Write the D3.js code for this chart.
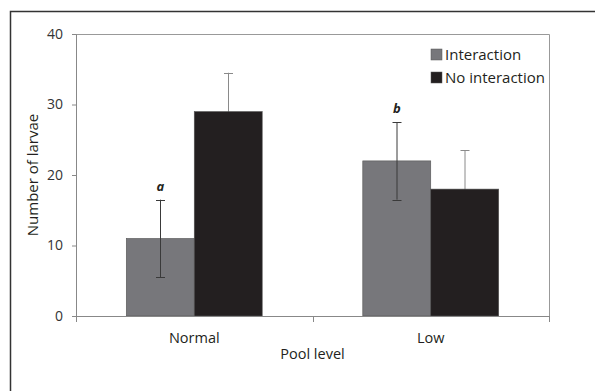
<!DOCTYPE html>
<html>
<head>
<meta charset="utf-8">
<script src="https://cdn.jsdelivr.net/npm/d3@7"></script>
<style>
    body { margin: 0; background: #fff; }
    svg { display: block; font-family: "Open Sans", sans-serif; }
</style>
</head>
<body>
<div id="chart"></div>
<script>
(function () {
    'use strict';

    var categories = ["Normal", "Low"];
    var seriesNames = ["Interaction", "No interaction"];
    var interactionValues = [11, 22];
    var noInteractionValues = [29, 18];
    var interactionErrors = [5.5, 5.5];
    var noInteractionErrors = [5.5, 5.5];
    var letters = ["a", "b"];
    var yTicks = [0, 10, 20, 30, 40];

    var width = 595, height = 391;
    var margin = { top: 34, right: 46, bottom: 75, left: 76 };
    var seriesColors = ["#77777b", "#231f20"];
    var errorColors = ["#3a3a3a", "#8a8a8a"];

    var svg = d3.select("#chart").append("svg")
        .attr("width", width)
        .attr("height", height);

    // outer frame (open at right/bottom, cropped)
    svg.append("path")
        .attr("d", "M10.5," + height + "V11.5H" + width)
        .attr("fill", "none")
        .attr("stroke", "#333")
        .attr("stroke-width", 1.5);

    var innerW = width - margin.left - margin.right;
    var innerH = height - margin.top - margin.bottom;

    var g = svg.append("g").attr("transform", "translate(" + margin.left + "," + margin.top + ")");

    var x0 = d3.scaleBand().domain(categories).range([0, innerW]).padding(0);
    var x1 = d3.scaleBand().domain(seriesNames).range([0, x0.bandwidth()]).paddingInner(0).paddingOuter(0.74);
    var y = d3.scaleLinear().domain([0, 40]).range([innerH, 0]);

    var rows = categories.map(function (c, i) {
        return {
            category: c,
            letter: letters[i],
            bars: [
                { series: seriesNames[0], value: interactionValues[i], err: interactionErrors[i], s: 0 },
                { series: seriesNames[1], value: noInteractionValues[i], err: noInteractionErrors[i], s: 1 }
            ]
        };
    });

    // plot area box (top + right)
    g.append("path")
        .attr("d", "M0,0.5H" + (innerW + 0.5) + "V" + innerH)
        .attr("fill", "none")
        .attr("stroke", "#999")
        .attr("stroke-width", 1);

    var groups = g.selectAll(".grp")
        .data(rows)
        .enter().append("g")
        .attr("class", "grp")
        .attr("transform", function (d) { return "translate(" + x0(d.category) + ",0)"; });

    function cx(d) { return Math.round(x1(d.series) + x1.bandwidth() / 2) + 0.5; }

    function drawErrors(sel) {
        sel.append("line")
            .attr("x1", cx).attr("x2", cx)
            .attr("y1", function (d) { return y(d.value - d.err); })
            .attr("y2", function (d) { return y(d.value + d.err); });
        [-1, 1].forEach(function (sign) {
            sel.append("line")
                .attr("x1", function (d) { return cx(d) - 4.5; })
                .attr("x2", function (d) { return cx(d) + 4.5; })
                .attr("y1", function (d) { return Math.round(y(d.value + sign * d.err)) + 0.5; })
                .attr("y2", function (d) { return Math.round(y(d.value + sign * d.err)) + 0.5; });
        });
    }

    // error bars of dark series sit behind their bars
    var ebBack = groups.selectAll(".errb")
        .data(function (d) { return d.bars.filter(function (b) { return b.s === 1; }); })
        .enter().append("g")
        .attr("class", "errb")
        .attr("stroke", function (d) { return errorColors[d.s]; });
    drawErrors(ebBack);

    groups.selectAll("rect")
        .data(function (d) { return d.bars; })
        .enter().append("rect")
        .attr("x", function (d) { return x1(d.series); })
        .attr("y", function (d) { return y(d.value); })
        .attr("width", x1.bandwidth())
        .attr("height", function (d) { return innerH - y(d.value); })
        .attr("fill", function (d) { return seriesColors[d.s]; })
        .attr("stroke", "#555")
        .attr("stroke-width", 0.6);

    var ebFront = groups.selectAll(".errf")
        .data(function (d) { return d.bars.filter(function (b) { return b.s === 0; }); })
        .enter().append("g")
        .attr("class", "errf")
        .attr("stroke", function (d) { return errorColors[d.s]; });
    drawErrors(ebFront);

    groups.append("text")
        .attr("x", x1(seriesNames[0]) + x1.bandwidth() / 2)
        .attr("y", function (d) { return y(d.bars[0].value + d.bars[0].err) - 9; })
        .attr("text-anchor", "middle")
        .attr("font-size", "13px")
        .attr("font-weight", "bold")
        .attr("font-style", "italic")
        .attr("fill", "#231f20")
        .text(function (d) { return d.letter; });

    // y axis
    var yAxis = g.append("g")
        .call(d3.axisLeft(y).tickValues(yTicks).tickSize(4).tickPadding(9));
    yAxis.selectAll("path, line").attr("stroke", "#888");
    yAxis.selectAll("text").attr("font-size", "14px").attr("fill", "#333").attr("font-family", "Open Sans, sans-serif");

    // x axis with boundary ticks
    var xAxis = g.append("g").attr("transform", "translate(0," + innerH + ")");
    xAxis.append("line")
        .attr("x1", 0).attr("x2", innerW)
        .attr("y1", 0.5).attr("y2", 0.5)
        .attr("stroke", "#888");
    var bounds = categories.map(function (c) { return x0(c); }).concat([innerW]);
    xAxis.selectAll(".xt")
        .data(bounds)
        .enter().append("line")
        .attr("x1", function (d) { return Math.round(d) + 0.5; })
        .attr("x2", function (d) { return Math.round(d) + 0.5; })
        .attr("y1", 0).attr("y2", 6)
        .attr("stroke", "#888");
    xAxis.selectAll(".xl")
        .data(categories)
        .enter().append("text")
        .attr("x", function (d) { return x0(d) + x0.bandwidth() / 2; })
        .attr("y", 27)
        .attr("text-anchor", "middle")
        .attr("font-size", "14.5px")
        .attr("fill", "#231f20")
        .text(function (d) { return d; });

    // axis titles
    g.append("text")
        .attr("x", innerW / 2)
        .attr("y", innerH + 43)
        .attr("text-anchor", "middle")
        .attr("font-size", "14.5px")
        .attr("fill", "#231f20")
        .text("Pool level");

    g.append("text")
        .attr("transform", "translate(" + (-38) + "," + (innerH / 2) + ") rotate(-90)")
        .attr("text-anchor", "middle")
        .attr("font-size", "15px")
        .attr("fill", "#231f20")
        .text("Number of larvae");

    // legend
    var legend = g.append("g").attr("transform", "translate(" + (innerW - 118) + ",15)");
    var li = legend.selectAll(".li")
        .data(seriesNames)
        .enter().append("g")
        .attr("transform", function (d, i) { return "translate(0," + (i * 23) + ")"; });
    li.append("rect")
        .attr("width", 11).attr("height", 11)
        .attr("fill", function (d, i) { return seriesColors[i]; })
        .attr("stroke", "#555").attr("stroke-width", 0.5);
    li.append("text")
        .attr("x", 14)
        .attr("y", 10.5)
        .attr("font-size", "15px")
        .attr("fill", "#231f20")
        .text(function (d) { return d; });
})();
</script>
</body>
</html>
